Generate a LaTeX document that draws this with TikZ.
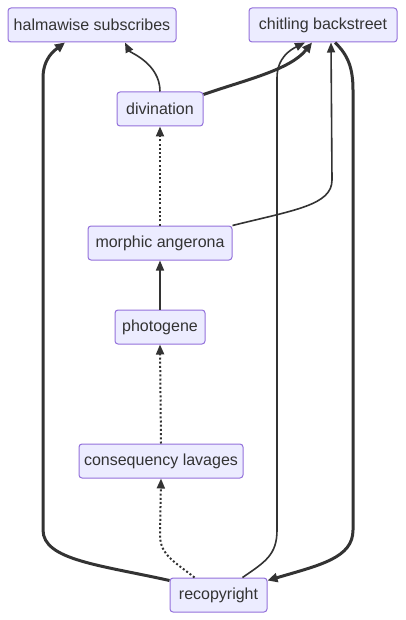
\documentclass[tikz,border=0pt]{standalone}
\usepackage{fontspec}
\setmainfont{Liberation Sans}
\usetikzlibrary{arrows.meta,calc}
\definecolor{nfill}{HTML}{ECECFF}
\definecolor{nborder}{HTML}{9370DB}
\definecolor{ink}{HTML}{333333}
\tikzset{
  box/.style={draw=nborder,fill=nfill,rounded corners=3pt,line width=1pt,inner sep=0pt,
    minimum height=34pt,text=ink,font=\fontsize{16}{19}\selectfont},
  thin/.style={draw=ink,line width=1.6pt,-{Triangle[length=10pt,width=8pt]}},
  thick/.style={draw=ink,line width=3pt,-{Triangle[length=10pt,width=9pt]}},
  dots/.style={draw=ink,line width=2pt,dash pattern=on 2pt off 2.2pt,-{Triangle[length=10pt,width=8pt]}},
}
\begin{document}
\begin{tikzpicture}[x=1pt,y=-1pt]
\useasboundingbox (0,0) rectangle (406,620);
\node[box,minimum width=168pt] (hal) at (92,25) {halmawise subscribes};
\node[box,minimum width=148pt] (chit) at (323,25) {chitling backstreet};
\node[box,minimum width=86pt] (div) at (160,109) {divination};
\node[box,minimum width=144pt] (mor) at (160,243) {morphic angerona};
\node[box,minimum width=90pt] (pho) at (160,327) {photogene};
\node[box,minimum width=164pt] (con) at (161,461) {consequency lavages};
\node[box,minimum width=97pt] (rec) at (218.5,595) {recopyright};

% divination -> halmawise
\draw[thin] (div.north) .. controls ($(div.north)+(0,-28)$) and ($(hal.south)+(38,10)$) .. ($(hal.south)+(33,0)$);
% divination -> chitling
\draw[thick] ($(div.north east)+(0,3)$) .. controls (245,80) and (290,70) .. ($(chit.south)+(-11,0)$);
% morphic -> divination
\draw[dots] (mor.north) -- (div.south);
% morphic -> chitling
\draw[thin] (mor.north east) .. controls (295,210) and (332,205) .. (332,180) -- ($(chit.south)+(8,0)$);
% photogene -> morphic
\draw[thin] (pho.north) -- (mor.south);
% consequency -> photogene
\draw[dots] (con.north) -- (pho.south);
% recopyright -> consequency
\draw[dots] ($(rec.north west)+(25,0)$) .. controls (175,562) and (160,555) .. (160,535) -- (con.south);
% recopyright -> halmawise
\draw[thick] ($(rec.north west)+(0,3)$) .. controls (100,565) and (43,560) .. (43,530) -- (43,78) .. controls (43,58) and (55,50) .. ($(hal.south)+(-27,0)$);
% recopyright -> chitling
\draw[thin] ($(rec.north west)+(73,0)$) .. controls (265,562) and (277,555) .. (277,530) -- (277,78) .. controls (277,58) and (290,50) .. ($(chit.south)+(-18,0)$);
% chitling -> recopyright
\draw[thick] ($(chit.south)+(12,0)$) .. controls (348,55) and (353,68) .. (353,90) -- (353,530) .. controls (353,558) and (320,565) .. ($(rec.north east)+(0,3)$);
\end{tikzpicture}
\end{document}
